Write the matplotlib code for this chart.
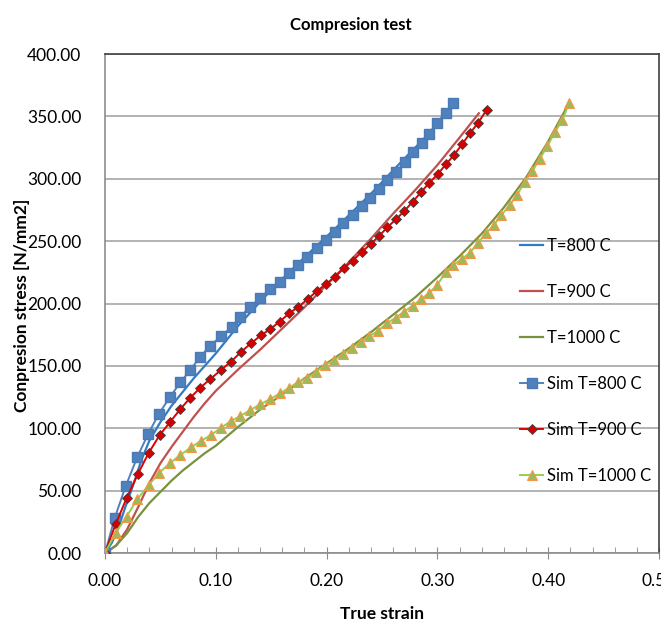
import matplotlib
matplotlib.use("Agg")
import matplotlib.pyplot as plt
from matplotlib.ticker import MultipleLocator, FormatStrFormatter

plt.rcParams['font.family'] = ['Lato', 'DejaVu Sans']

# measured curves (true strain / stress N/mm2)
exp800_strain = [0, 0.006, 0.012, 0.018, 0.026, 0.033, 0.04, 0.05, 0.06, 0.07, 0.08, 0.09, 0.1, 0.12, 0.15, 0.18, 0.21, 0.24, 0.27, 0.29, 0.311]
exp800_stress = [0, 8, 20, 36, 56, 75, 90, 105, 118, 129, 140, 150, 160, 182, 211, 237, 262, 288, 316, 334, 356]

exp900_strain = [0, 0.01, 0.02, 0.03, 0.04, 0.05, 0.06, 0.07, 0.08, 0.09, 0.1, 0.12, 0.14, 0.16, 0.18,
                 0.2, 0.22, 0.24, 0.26, 0.28, 0.3, 0.32, 0.3374]
exp900_stress = [0, 6, 19, 37, 56, 72, 85, 97, 109, 120, 130, 147, 163, 180, 197,
                 215, 233, 252, 272, 291, 311, 333, 352.5]

exp1000_strain = [0, 0.01, 0.02, 0.03, 0.04, 0.05, 0.06, 0.07, 0.08, 0.09, 0.1, 0.12, 0.14, 0.16, 0.18,
                  0.2, 0.22, 0.24, 0.26, 0.28, 0.3, 0.32, 0.34, 0.36, 0.38, 0.4, 0.419]
exp1000_stress = [0, 6, 16, 29, 40, 49, 58, 66, 73, 80, 86, 101, 115, 127, 140,
                  152, 164, 177, 191, 205, 221, 238, 256, 277, 301, 330, 361]

# simulation points
sim800_strain = [0, 0.0088, 0.0187, 0.029, 0.0389, 0.0485, 0.0584, 0.068, 0.077, 0.086, 0.095, 0.105,
                 0.1146, 0.1221, 0.1311, 0.1401, 0.1485, 0.1575, 0.1656, 0.1746, 0.1827, 0.1912, 0.1995,
                 0.2077, 0.2151, 0.2236, 0.2317, 0.2392, 0.2473, 0.2542, 0.2626, 0.2707, 0.2782, 0.2858,
                 0.2926, 0.2998, 0.3074, 0.3142]
sim800_stress = [0, 28.3, 53.7, 76.7, 95.4, 111.4, 124.8, 136.8, 146.7, 157.4, 166.2, 174,
                 181.4, 189.4, 197.4, 204.2, 211.4, 217.5, 224.2, 230.9, 237.5, 244.2, 250.9,
                 257.6, 264.3, 270.9, 278.2, 284.3, 291.5, 299.0, 305.7, 313.2, 321.5, 328.9,
                 335.9, 344.9, 352.9, 361.0]

sim900_strain = [0, 0.0095, 0.0194, 0.0295, 0.0395, 0.0494, 0.059, 0.068, 0.077, 0.086, 0.095, 0.1047,
                 0.1137, 0.1231, 0.1317, 0.1407, 0.1491, 0.1575, 0.1662, 0.1746, 0.1831, 0.1912, 0.1995,
                 0.2077, 0.216, 0.2236, 0.2317, 0.2398, 0.2473, 0.2548, 0.2626, 0.2701, 0.2777, 0.2851,
                 0.2923, 0.3002, 0.3077, 0.3149, 0.3223, 0.3293, 0.3368, 0.3443]
sim900_stress = [0, 23, 43.8, 63.1, 80.4, 94.6, 105.3, 115.4, 124.5, 132.5, 139.5, 146.7,
                 153.4, 161.5, 168, 174.5, 179.5, 185.4, 192.1, 197.4, 203.6, 210, 215.6,
                 221.5, 228.7, 234.3, 241.3, 247.7, 254.1, 261.1, 267.5, 274.1, 281.6, 289.1,
                 296.4, 303.6, 311.6, 319, 327.6, 336.4, 344.9, 355.1]

sim1000_strain = [0, 0.0095, 0.0194, 0.029, 0.0395, 0.0485, 0.0584, 0.068, 0.0777, 0.0867, 0.0957, 0.1047,
                  0.1137, 0.1221, 0.1311, 0.1401, 0.1491, 0.1581, 0.1662, 0.1746, 0.1822, 0.1905, 0.1986,
                  0.2068, 0.2146, 0.2227, 0.2308, 0.2386, 0.2467, 0.2542, 0.2623, 0.2698, 0.2777, 0.2851,
                  0.2923, 0.3, 0.3077, 0.3142, 0.3218, 0.3293, 0.3368, 0.3437, 0.3509, 0.3578, 0.3653,
                  0.3719, 0.3788, 0.3858, 0.3923, 0.3993, 0.4059, 0.4128, 0.4188]
sim1000_stress = [0, 16.3, 29.1, 43, 54.5, 63.9, 71.9, 78.6, 84.7, 90, 94.6, 100.4,
                  105.8, 109.8, 114.6, 119.2, 123.4, 128, 132.5, 137.3, 140, 145.3, 150.7,
                  154.7, 159.5, 164.1, 169.4, 173.9, 178.2, 184.1, 188.6, 193.4, 198.2, 203.4,
                  208.2, 215, 225.5, 230.9, 235.4, 240.7, 248.7, 256.3, 262.9, 270.9, 279,
                  287, 297.6, 306.2, 315.8, 326.3, 337.2, 347.1, 360.5]

fig = plt.figure(figsize=(6.61, 6.31), dpi=100)
ax = fig.add_axes([0.1589, 0.1236, 0.8381, 0.7908])

ax.plot(exp800_strain, exp800_stress, color='#2F7CC6', lw=1.6, label='T=800 C', zorder=3)
ax.plot(exp900_strain, exp900_stress, color='#C0504D', lw=1.6, label='T=900 C', zorder=3)
ax.plot(exp1000_strain, exp1000_stress, color='#77933C', lw=1.6, label='T=1000 C', zorder=3)
ax.plot(sim800_strain, sim800_stress, color='#4F81BD', lw=1.4, marker='s', ms=7,
        mfc='#4F81BD', mec='#4A7AB5', label='Sim T=800 C', zorder=4)
ax.plot(sim900_strain, sim900_stress, color='#E00000', lw=1.4, marker='D', ms=5.5,
        mfc='#D40000', mec='#404040', mew=0.6, label='Sim T=900 C', zorder=4)
ax.plot(sim1000_strain, sim1000_stress, color='#92D050', lw=1.4, marker='^', ms=7,
        mfc='#9BBB59', mec='#F79646', mew=0.8, label='Sim T=1000 C', zorder=4)

ax.set_xlim(0, 0.5)
ax.set_ylim(0, 400)
ax.xaxis.set_major_locator(MultipleLocator(0.1))
ax.xaxis.set_minor_locator(MultipleLocator(0.02))
ax.yaxis.set_major_locator(MultipleLocator(50))
ax.xaxis.set_major_formatter(FormatStrFormatter('%.2f'))
ax.yaxis.set_major_formatter(FormatStrFormatter('%.2f'))
ax.grid(axis='y', color='#A6A6A6', lw=1.2)
ax.set_axisbelow(True)

ax.tick_params(axis='x', which='major', direction='inout', length=9, color='#8C8C8C', labelsize=12.5, pad=10)
ax.tick_params(axis='x', which='minor', direction='in', length=4, color='#8C8C8C')
ax.tick_params(axis='y', length=0, labelsize=12.5, pad=17)

for s in ['left', 'bottom']:
    ax.spines[s].set_color('#8C8C8C')
    ax.spines[s].set_linewidth(1.2)
for s in ['top', 'right']:
    ax.spines[s].set_color('#404040')
    ax.spines[s].set_linewidth(1.2)

ax.set_xlabel('True strain', fontsize=12.5, fontweight='bold', labelpad=12)
fig.text(22 / 661, 1 - 305 / 631, 'Conpresion stress [N/mm2]', rotation=90, ha='center', va='center',
         fontsize=12.5, fontweight='bold')
fig.text(351 / 661, 1 - 25 / 631, 'Compresion test', ha='center', va='center',
         fontsize=12, fontweight='bold')

ax.legend(loc='upper left', bbox_to_anchor=(0.734, 0.648), frameon=False, fontsize=12,
          handlelength=1.4, handletextpad=0.2, labelspacing=1.8, numpoints=1, borderpad=0)

fig.savefig('out.png', dpi=100)
